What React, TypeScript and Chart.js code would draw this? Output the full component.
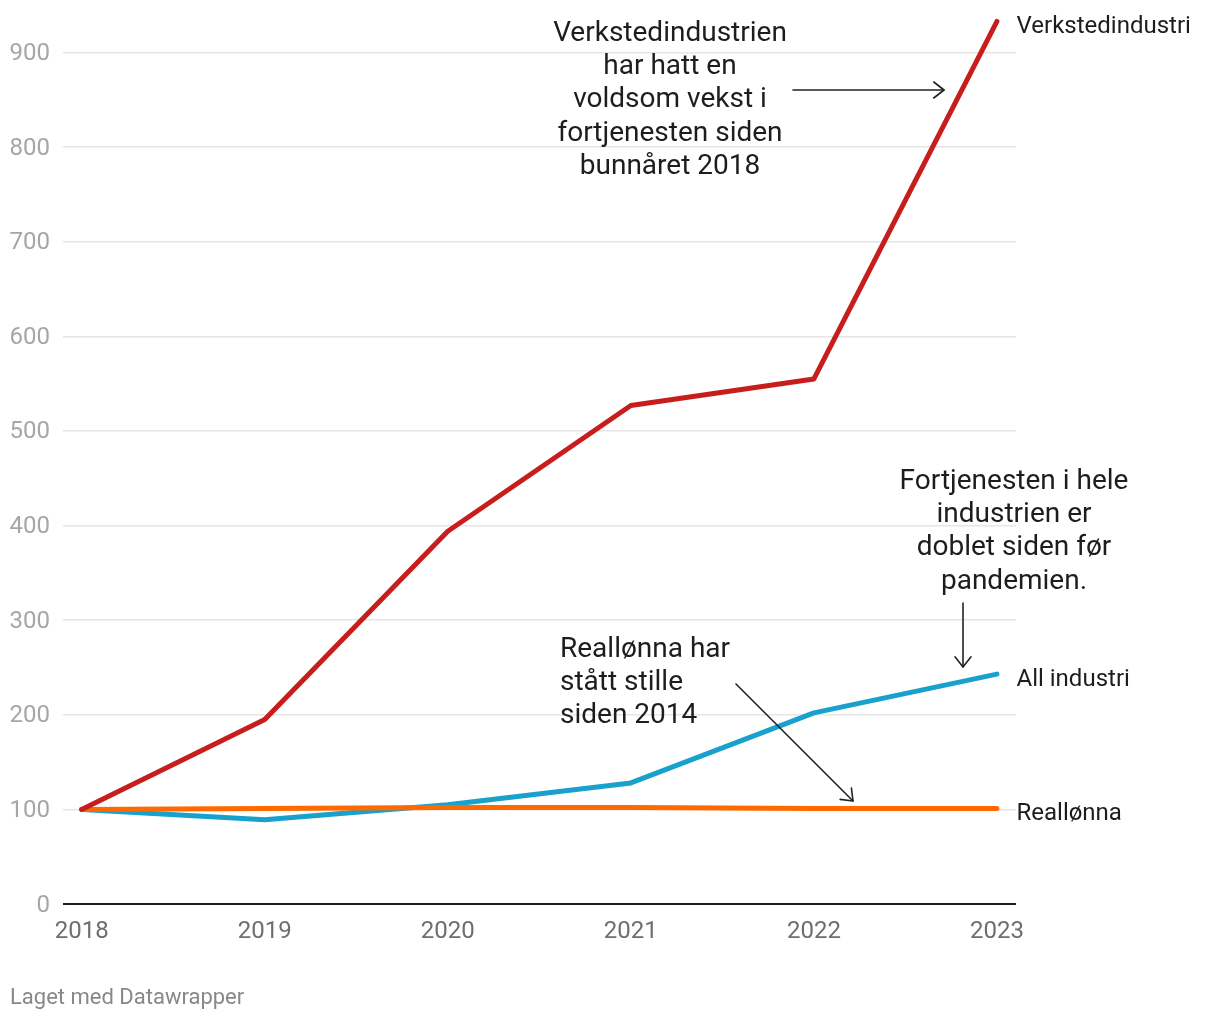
import React, { useEffect, useRef } from "react";
import { Chart, registerables } from "chart.js";

Chart.register(...registerables);

// ---- Data ----
const years = [2018, 2019, 2020, 2021, 2022, 2023];
const verkstedindustri = [100, 195, 394, 527, 555, 933];
const allIndustri = [100, 89, 105, 128, 202, 243];
const reallonna = [100, 101, 102, 102, 101, 101];
const yTickValues = [0, 100, 200, 300, 400, 500, 600, 700, 800, 900];

const seriesNames = ["Verkstedindustri", "Reallønna", "All industri"];
const footerText = "Laget med Datawrapper";

const annotationTop = [
  "Verkstedindustrien",
  "har hatt en",
  "voldsom vekst i",
  "fortjenesten siden",
  "bunnåret 2018",
];
const annotationRight = [
  "Fortjenesten i hele",
  "industrien er",
  "doblet siden før",
  "pandemien.",
];
const annotationMid = ["Reallønna har", "stått stille", "siden 2014"];

const FONT = "Roboto, 'Noto Sans', sans-serif";

function drawArrow(
  ctx: CanvasRenderingContext2D,
  x1: number,
  y1: number,
  x2: number,
  y2: number
) {
  const ang = Math.atan2(y2 - y1, x2 - x1);
  const head = 13;
  const spread = (38 * Math.PI) / 180;
  ctx.save();
  ctx.strokeStyle = "#222";
  ctx.lineWidth = 1.6;
  ctx.lineCap = "round";
  ctx.lineJoin = "round";
  ctx.beginPath();
  ctx.moveTo(x1, y1);
  ctx.lineTo(x2, y2);
  ctx.stroke();
  ctx.beginPath();
  ctx.moveTo(x2 - head * Math.cos(ang - spread), y2 - head * Math.sin(ang - spread));
  ctx.lineTo(x2, y2);
  ctx.lineTo(x2 - head * Math.cos(ang + spread), y2 - head * Math.sin(ang + spread));
  ctx.stroke();
  ctx.restore();
}

const annotationPlugin = {
  id: "dwAnnotations",
  afterDatasetsDraw(chart: any) {
    const { ctx, chartArea, scales } = chart;
    const y = scales.y;
    ctx.save();
    // end labels
    ctx.font = `24px ${FONT}`;
    ctx.fillStyle = "#1d1d1d";
    ctx.textAlign = "left";
    ctx.textBaseline = "alphabetic";
    chart.data.datasets.forEach((ds: any) => {
      const last = ds.data[ds.data.length - 1];
      const val = typeof last === "object" ? last.y : last;
      const py = y.getPixelForValue(val);
      ctx.fillText(ds.label, chartArea.right + 0.5, py + 11.5);
    });

    // annotation texts
    ctx.font = `28px ${FONT}`;
    const lh = 33.4;
    ctx.textAlign = "center";
    annotationTop.forEach((t, i) => ctx.fillText(t, 670, 40.5 + i * lh));
    annotationRight.forEach((t, i) => ctx.fillText(t, 1014, 488.5 + i * lh));
    ctx.textAlign = "left";
    annotationMid.forEach((t, i) => ctx.fillText(t, 560, 656.5 + i * lh));

    drawArrow(ctx, 793, 90, 944, 90);
    drawArrow(ctx, 963, 603, 963, 667);
    drawArrow(ctx, 736, 684, 853, 801);

    // footer
    ctx.font = `22px ${FONT}`;
    ctx.fillStyle = "#888";
    ctx.textAlign = "left";
    ctx.fillText(footerText, 10, 1004);
    ctx.restore();
  },
};

export default function App() {
  const ref = useRef<HTMLCanvasElement>(null);

  useEffect(() => {
    if (!ref.current) return;
    Chart.defaults.font.family = FONT;
    const chart = new Chart(ref.current, {
      type: "line",
      data: {
        labels: years,
        datasets: [
          {
            label: seriesNames[0],
            data: years.map((yr, i) => ({ x: yr, y: verkstedindustri[i] })),
            borderColor: "#c71e1d",
          },
          {
            label: seriesNames[1],
            data: years.map((yr, i) => ({ x: yr, y: reallonna[i] })),
            borderColor: "#fe6a00",
          },
          {
            label: seriesNames[2],
            data: years.map((yr, i) => ({ x: yr, y: allIndustri[i] })),
            borderColor: "#18a1cd",
          },
        ].map((d) => ({
          ...d,
          borderWidth: 5,
          pointRadius: 0,
          pointHoverRadius: 0,
          tension: 0,
          fill: false,
          borderCapStyle: "round" as const,
          borderJoinStyle: "round" as const,
        })),
      },
      options: {
        responsive: false,
        animation: false,
        events: [],
        layout: { padding: { left: 0, top: 10, right: 204, bottom: 66 } },
        plugins: {
          legend: { display: false },
          tooltip: { enabled: false },
          title: { display: false },
        },
        scales: {
          x: {
            type: "linear",
            min: 2017.898,
            max: 2023.104,
            grid: { display: false, drawTicks: false },
            border: { display: false },
            afterBuildTicks: (scale: any) => {
              scale.ticks = years.map((v) => ({ value: v }));
            },
            afterFit: (scale: any) => {
              scale.height = 50;
              scale.paddingLeft = 0;
              scale.paddingRight = 0;
            },
            ticks: {
              autoSkip: false,
              maxRotation: 0,
              padding: 14,
              color: "#6e6e6e",
              font: { size: 24, family: FONT },
              callback: (v: any) => String(v),
            },
          },
          y: {
            type: "linear",
            min: 0,
            max: 945,
            border: { display: false },
            grid: {
              drawTicks: false,
              color: (c: any) => (c.tick && c.tick.value === 0 ? "#1a1a1a" : "#e6e6e6"),
              lineWidth: (c: any) => (c.tick && c.tick.value === 0 ? 2 : 1.5),
            },
            afterBuildTicks: (scale: any) => {
              scale.ticks = yTickValues.map((v) => ({ value: v }));
            },
            afterFit: (scale: any) => {
              scale.width = 63;
              scale.paddingTop = 0;
              scale.paddingBottom = 0;
            },
            ticks: {
              padding: 13,
              labelOffset: 1.5,
              color: "#a6a6a6",
              font: { size: 24, family: FONT },
              callback: (v: any) => String(v),
            },
          },
        },
      },
      plugins: [annotationPlugin],
    });
    return () => chart.destroy();
  }, []);

  return (
    <div
      style={{
        position: "absolute",
        left: 0,
        top: 0,
        width: 1220,
        height: 1020,
        background: "#fff",
      }}
    >
      <canvas
        ref={ref}
        width={1220}
        height={1020}
        style={{ display: "block", width: 1220, height: 1020 }}
      />
    </div>
  );
}
